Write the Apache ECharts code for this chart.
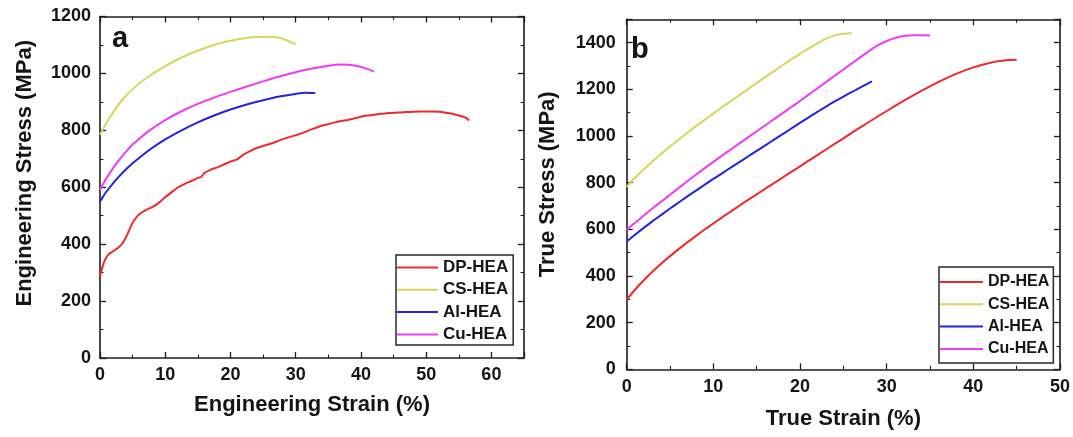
<!DOCTYPE html>
<html>
<head>
<meta charset="utf-8">
<script src="https://cdn.jsdelivr.net/npm/echarts@6/dist/echarts.min.js"></script>
<style>
html,body{margin:0;padding:0;background:#fff;}
#c{width:1073px;height:437px;}
</style>
</head>
<body>
<div id="c"></div>
<script>
// ---------- data ----------
const seriesNames = ['DP-HEA', 'CS-HEA', 'Al-HEA', 'Cu-HEA'];
const seriesColors = ['#ee2a2e', '#d6d65e', '#2323e0', '#f03cf0'];

// Panel a: engineering strain (%) vs engineering stress (MPa)
const engDP = [[0,287],[0.5,330],[1,355],[1.5,368],[2,375],[3,392],[3.5,405],[4,425],[4.5,450],[5,475],[5.5,492],[6,505],[7,520],[8,530],[9,545],[10,565],[11,583],[12,600],[13,612],[14,622],[15,633],[15.5,636],[16,650],[17,662],[18,670],[19,680],[20,690],[21,698],[21.5,706],[22,715],[23,727],[24,738],[25,745],[26,752],[27,760],[28,769],[29,776],[30,783],[31,790],[32,800],[33,808],[34,816],[35,822],[36,828],[37,833],[38,836],[39,842],[40,848],[41,852],[42,855],[43,858],[44,860],[45,862],[46,863],[47,864],[48,865],[49,866],[50,866],[51,866],[52,865],[53,862],[54,858],[55,852],[56,845],[56.6,835]];
const engCS = [[0,785],[0.5,806],[1,826],[1.5,845],[2.5,880],[3.6,912],[5,944],[6.1,966],[7.5,990],[8.7,1008],[10,1026],[11.2,1041],[12.5,1056],[13.8,1069],[15,1080],[16.3,1091],[17.5,1100],[18.9,1109],[20,1115],[21.4,1121],[22.5,1125],[24,1128],[25.5,1129],[27,1127],[28,1122],[29,1113],[30,1102]];
const engAl = [[0,550],[0.5,568],[1,585],[2,614],[3,640],[4,663],[5,684],[7.5,730],[10,768],[12.5,800],[15,828],[17.5,852],[20,873],[22.5,891],[25,906],[27.5,919],[30,928],[31.5,932],[33,931]];
const engCu = [[0,590],[0.5,612],[1,632],[2,667],[3,698],[4,725],[5,750],[7.5,798],[10,836],[12.5,867],[15,893],[17.5,915],[20,935],[22.5,954],[25,972],[27.5,989],[30,1004],[32.5,1017],[35,1027],[37,1031],[39,1028],[41,1016],[42,1006]];

// Panel b: true strain (%) vs true stress (MPa)
const trueDP = [[0,298],[1,343],[2,383],[3,419],[4,453],[5,485],[6,515],[7,544],[8,572],[9,599],[10,625],[11,651],[12,676],[13,701],[14,726],[15,750],[16,774],[17,798],[18,822],[19,846],[20,870],[22,918],[24,966],[26,1014],[28,1061],[30,1107],[32,1151],[34,1193],[36,1232],[38,1266],[40,1294],[42,1314],[43,1321],[44,1326],[45,1327]];
const trueCS = [[0,782],[0.4,800],[1,822],[2,858],[3,892],[4,924],[5,955],[6,985],[7,1014],[8,1042],[9,1069],[10,1096],[11,1123],[12,1149],[13,1175],[14,1201],[15,1227],[16,1253],[17,1278],[18,1303],[19,1328],[20,1352],[21,1375],[22,1397],[23,1417],[24,1431],[25,1438],[26,1440]];
const trueAl = [[0,548],[0.5,563],[1,578],[2,607],[3,635],[4,662],[5,689],[6,715],[7,741],[8,766],[9,791],[10,816],[11,840],[12,864],[13,888],[14,912],[15,936],[16,960],[17,984],[18,1008],[19,1032],[20,1056],[21,1080],[22,1103],[23,1126],[24,1148],[25,1169],[26,1189],[27,1208],[27.7,1222],[28.3,1234]];
const trueCu = [[0,598],[0.5,614],[1,629],[2,660],[3,690],[4,719],[5,748],[6,777],[7,806],[8,834],[9,862],[10,889],[11,916],[12,942],[13,968],[14,994],[15,1020],[16,1046],[17,1072],[18,1098],[19,1124],[20,1150],[21,1177],[22,1204],[23,1231],[24,1258],[25,1285],[26,1312],[27,1339],[28,1365],[29,1389],[30,1407],[31,1420],[32,1428],[33,1432],[34,1432],[35,1431]];

const engX = {min: 0, max: 65, interval: 10};
const engY = {min: 0, max: 1200, interval: 200};
const trueX = {min: 0, max: 50, interval: 10};
const trueY = {min: 0, max: 1500, interval: 200};

// ---------- chart ----------
const FONT = 'Liberation Sans, Arial, sans-serif';
const AX = '#1c1c1c';

function axis(kind, grid, pos, sc, opts) {
  opts = opts || {};
  const main = !!opts.name;
  return {
    type: 'value', gridIndex: grid, position: pos,
    min: sc.min, max: sc.max, interval: sc.interval,
    name: opts.name || '', nameLocation: 'middle', nameGap: opts.gap || 0,
    nameTextStyle: {fontFamily: FONT, fontWeight: 'bold', fontSize: 22, color: '#151515', padding: opts.pad || 0},
    axisLine: {show: true, onZero: false, lineStyle: {color: AX, width: 1.6}},
    axisTick: {show: true, inside: true, length: 6, lineStyle: {color: AX, width: 1.3}},
    minorTick: {show: true, splitNumber: 2, length: 3.5, lineStyle: {color: AX, width: 1.1}},
    splitLine: {show: false},
    axisLabel: {show: main, showMaxLabel: opts.showMax !== false, margin: opts.margin || 8,
      formatter: function (v) { return String(v); },
      fontFamily: FONT, fontWeight: 'bold', fontSize: 18, color: '#151515'}
  };
}

function mk(name, color, data, xi, yi, smooth) {
  return {name: name, type: 'line', data: data, xAxisIndex: xi, yAxisIndex: yi,
    symbol: 'none', smooth: smooth,
    lineStyle: {color: color, width: 2}, itemStyle: {color: color}};
}

const chart = echarts.init(document.getElementById('c'), null, {renderer: 'canvas'});
const legendBase = {
  orient: 'vertical', data: seriesNames, icon: 'rect',
  borderColor: '#2a2a2a', borderWidth: 1.5, borderRadius: 0,
  selectedMode: false, backgroundColor: '#fff'
};

chart.setOption({
  animation: false,
  backgroundColor: '#fff',
  grid: [
    {left: 100, top: 16.5, width: 424, height: 341.5},
    {left: 626.7, top: 19.3, width: 434.5, height: 350}
  ],
  xAxis: [
    axis('x', 0, 'bottom', engX, {name: 'Engineering Strain (%)', gap: 36, margin: 8, showMax: false}),
    axis('x', 0, 'top', engX),
    axis('x', 1, 'bottom', trueX, {name: 'True Strain (%)', gap: 39, margin: 9}),
    axis('x', 1, 'top', trueX)
  ],
  yAxis: [
    axis('y', 0, 'left', engY, {name: 'Engineering Stress (MPa)', gap: 64, margin: 9, pad: [0, 0, 0, 28]}),
    axis('y', 0, 'right', engY),
    axis('y', 1, 'left', trueY, {name: 'True Stress (MPa)', gap: 68, margin: 11, showMax: false, pad: [0, 0, 0, 20]}),
    axis('y', 1, 'right', trueY)
  ],
  legend: [
    Object.assign({}, legendBase, {left: 396, top: 255, itemWidth: 41, itemHeight: 2, itemGap: 5.3,
      padding: [4, 5, 2, 1], textStyle: {fontFamily: FONT, fontWeight: 'bold', fontSize: 17, color: '#151515'}}),
    Object.assign({}, legendBase, {left: 939, top: 267, itemWidth: 43, itemHeight: 2, itemGap: 6.3,
      padding: [7, 4, 6, 1], textStyle: {fontFamily: FONT, fontWeight: 'bold', fontSize: 16, color: '#151515'}})
  ],
  graphic: [
    {type: 'text', left: 112, top: 24, style: {text: 'a', font: 'bold 29px ' + FONT, fill: '#151515'}},
    {type: 'text', left: 631, top: 35, style: {text: 'b', font: 'bold 29px ' + FONT, fill: '#151515'}}
  ],
  series: [
    mk(seriesNames[0], seriesColors[0], engDP, 0, 0, 0.2),
    mk(seriesNames[1], seriesColors[1], engCS, 0, 0, 0.3),
    mk(seriesNames[2], seriesColors[2], engAl, 0, 0, 0.3),
    mk(seriesNames[3], seriesColors[3], engCu, 0, 0, 0.3),
    mk(seriesNames[0], seriesColors[0], trueDP, 2, 2, 0.3),
    mk(seriesNames[1], seriesColors[1], trueCS, 2, 2, 0.3),
    mk(seriesNames[2], seriesColors[2], trueAl, 2, 2, 0.3),
    mk(seriesNames[3], seriesColors[3], trueCu, 2, 2, 0.3)
  ]
});
</script>
</body>
</html>
